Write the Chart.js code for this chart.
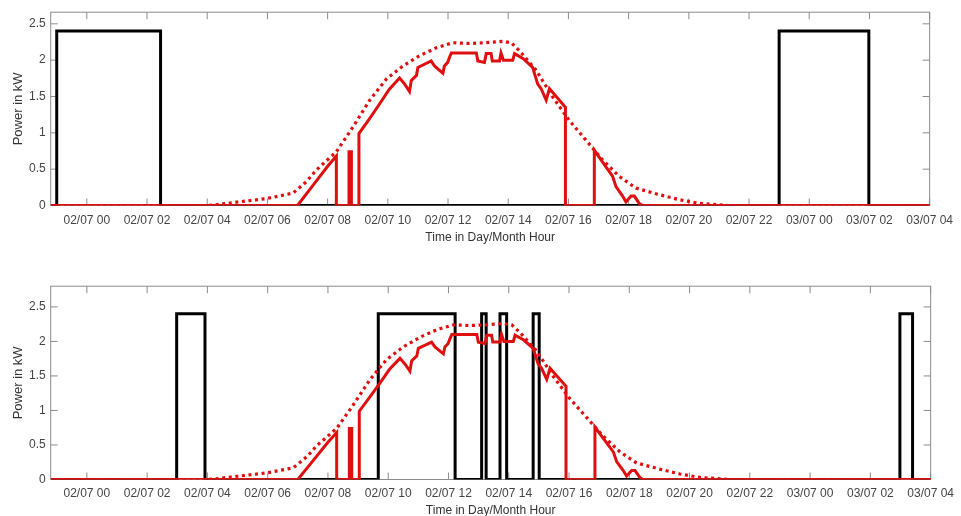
<!DOCTYPE html>
<html><head><meta charset="utf-8">
<script src="https://cdn.jsdelivr.net/npm/chart.js@4/dist/chart.umd.min.js"></script>
<style>
html,body{margin:0;padding:0;background:#fff;overflow:hidden;width:961px;height:516px}
canvas{position:absolute;left:0}
#c1{top:0}
#c2{top:274px}
</style></head><body>
<canvas id="c1" width="961" height="250"></canvas>
<canvas id="c2" width="961" height="250"></canvas>
<script>
// ---- data (hours relative to 02/07 00:00) ----
const tickHours = [0,2,4,6,8,10,12,14,16,18,20,22,24,26,28];
const tickLabels = ['02/07 00','02/07 02','02/07 04','02/07 06','02/07 08','02/07 10','02/07 12','02/07 14','02/07 16','02/07 18','02/07 20','02/07 22','03/07 00','03/07 02','03/07 04'];
const yTicks = [0,0.5,1,1.5,2,2.5];
const xMin = -1.2, xMax = 28;
const yMaxTop = 2.66, yMaxBottom = 2.8;

// PV actual (red solid)
const pvHours = [-1.2,7.0,7.5,8.0,8.29,8.29,8.71,8.71,8.79,8.79,9.04,9.04,9.4,9.73,10.05,10.39,10.56,10.72,10.78,10.95,11.0,11.44,11.55,11.66,11.83,11.88,11.99,12.05,12.11,12.94,12.99,13.21,13.27,13.43,13.47,13.71,13.76,13.84,14.15,14.21,14.5,14.81,14.98,15.09,15.26,15.37,15.9,15.9,16.86,16.86,17.47,17.58,17.8,17.91,18.08,18.19,18.35,18.45,28];
const pvKW    = [0,0,0.27,0.54,0.68,0,0,0.74,0.74,0,0,0.99,1.2,1.40,1.6,1.755,1.67,1.57,1.72,1.79,1.90,1.99,1.92,1.88,1.82,1.92,1.97,2.04,2.10,2.10,1.99,1.97,2.09,2.09,1.99,1.99,2.10,2.0,2.0,2.09,2.02,1.90,1.67,1.61,1.45,1.61,1.35,0,0,0.76,0.40,0.26,0.13,0.05,0.13,0.13,0.03,0,0];

// PV forecast (red dotted)
const fcHours = [-1.2,4.0,4.19,4.85,5.97,6.85,7.3,7.63,8.29,8.84,9.4,9.95,10.5,11.05,11.61,12.16,12.71,13.27,13.82,14.1,14.37,14.93,15.48,16.03,16.58,17.13,17.69,18.24,19.01,19.68,20.34,21.0,21.3,28];
const fcKW    = [0,0,0.005,0.04,0.095,0.17,0.33,0.49,0.74,1.08,1.45,1.74,1.92,2.06,2.17,2.24,2.23,2.24,2.26,2.24,2.13,1.86,1.49,1.17,0.90,0.63,0.40,0.24,0.15,0.08,0.03,0.01,0,0];

// Load, upper plot (black)
const loadTopHours = [-1.2,-1.0,-1.0,2.45,2.45,23.0,23.0,25.98,25.98,28];
const loadTopKW    = [0,0,2.4,2.4,0,0,2.4,2.4,0,0];

// Load, lower plot (black)
const loadBotHours = [-1.2,2.98,2.98,3.92,3.92,9.67,9.67,12.22,12.22,13.1,13.1,13.25,13.25,13.71,13.71,13.93,13.93,14.81,14.81,15.01,15.01,26.98,26.98,27.4,27.4,28];
const loadBotKW    = [0,0,2.4,2.4,0,0,2.4,2.4,0,0,2.4,2.4,0,0,2.4,2.4,0,0,2.4,2.4,0,0,2.4,2.4,0,0];

const zip = (xs, ys) => xs.map((x, i) => ({x, y: ys[i]}));
const FONT = "'Liberation Sans', Arial, Helvetica, sans-serif";
const RED = '#e00f0f';

const matlabAxes = {
  id: 'matlabAxes',
  beforeDatasetsDraw(chart) {
    const {ctx, chartArea: a, scales: {x, y}} = chart;
    ctx.save();
    ctx.strokeStyle = '#8c8c8c';
    ctx.lineWidth = 1;
    ctx.strokeRect(a.left, a.top, a.right - a.left, a.bottom - a.top);
    const L = 7;
    ctx.beginPath();
    tickHours.forEach(h => {
      const px = x.getPixelForValue(h);
      ctx.moveTo(px, a.bottom); ctx.lineTo(px, a.bottom - L);
      ctx.moveTo(px, a.top); ctx.lineTo(px, a.top + L);
    });
    yTicks.forEach(v => {
      const py = y.getPixelForValue(v);
      ctx.moveTo(a.left, py); ctx.lineTo(a.left + L, py);
      ctx.moveTo(a.right, py); ctx.lineTo(a.right - L, py);
    });
    ctx.stroke();
    ctx.restore();
  }
};

function makeChart(id, loadH, loadV, yMax, padTop, tickPad, titlePadBottom) {
  return new Chart(document.getElementById(id), {
    type: 'line',
    data: {
      datasets: [
        {data: zip(fcHours, fcKW), borderColor: RED, borderWidth: 3.2, borderDash: [3, 3.6], pointRadius: 0, tension: 0, fill: false},
        {data: zip(pvHours, pvKW), borderColor: RED, borderWidth: 3, pointRadius: 0, tension: 0, fill: false},
        {data: zip(loadH, loadV), borderColor: '#000', borderWidth: 3, pointRadius: 0, tension: 0, fill: false}
      ]
    },
    options: {
      responsive: false,
      animation: false,
      events: [],
      layout: {padding: {left: 0, right: 29.3, top: padTop, bottom: 0}},
      plugins: {legend: {display: false}, tooltip: {enabled: false}},
      scales: {
        x: {
          type: 'linear', min: xMin, max: xMax,
          grid: {display: false, drawTicks: false},
          border: {display: false},
          afterBuildTicks: s => { s.ticks = tickHours.map(v => ({value: v})); },
          afterFit: s => { s.height = 44.5; },
          ticks: {
            padding: tickPad, maxRotation: 0, autoSkip: false, color: '#444',
            font: {family: FONT, size: 12},
            callback: v => { const i = tickHours.indexOf(v); return i >= 0 ? tickLabels[i] : ''; }
          },
          title: {display: true, text: 'Time in Day/Month Hour', color: '#333', font: {family: FONT, size: 12}, padding: {top: 0, bottom: titlePadBottom}}
        },
        y: {
          min: 0, max: yMax,
          grid: {display: false, drawTicks: false},
          border: {display: false},
          afterBuildTicks: s => { s.ticks = yTicks.map(v => ({value: v})); },
          afterFit: s => { s.width = 50.7; },
          ticks: {padding: 5, color: '#444', font: {family: FONT, size: 12}, callback: v => String(v)},
          title: {display: true, text: 'Power in kW', color: '#333', font: {family: FONT, size: 13}, padding: {top: 10.5, bottom: 0}}
        }
      }
    },
    plugins: [matlabAxes]
  });
}

makeChart('c1', loadTopHours, loadTopKW, yMaxTop, 11, 8, 4.8);
makeChart('c2', loadBotHours, loadBotKW, yMaxBottom, 10, 7, 6);
</script>
</body></html>
